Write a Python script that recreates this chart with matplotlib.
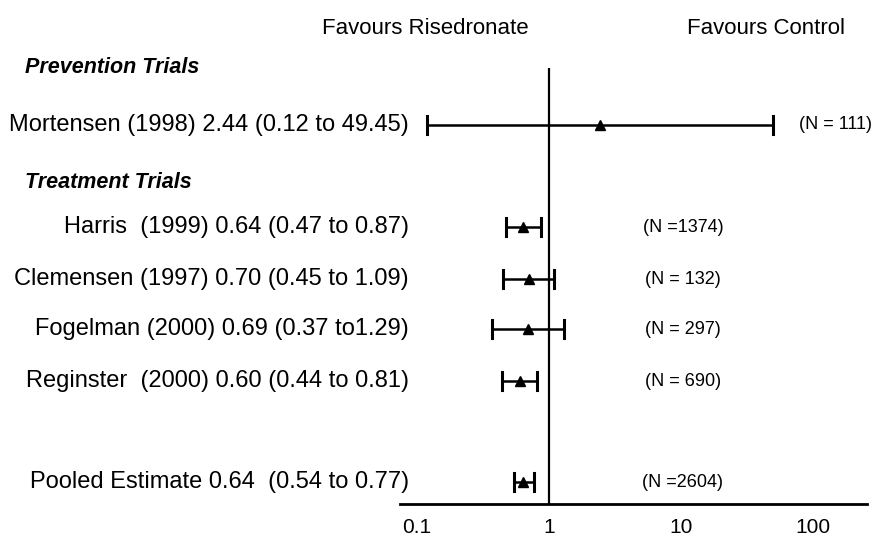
import matplotlib
matplotlib.use("Agg")
import matplotlib.pyplot as plt
from matplotlib.transforms import blended_transform_factory

plt.rcParams["font.family"] = ["Liberation Sans", "DejaVu Sans"]

# data
studies = ["Mortensen (1998) 2.44 (0.12 to 49.45)",
           "Harris  (1999) 0.64 (0.47 to 0.87)",
           "Clemensen (1997) 0.70 (0.45 to 1.09)",
           "Fogelman (2000) 0.69 (0.37 to1.29)",
           "Reginster  (2000) 0.60 (0.44 to 0.81)",
           "Pooled Estimate 0.64  (0.54 to 0.77)"]
rr = [2.44, 0.64, 0.70, 0.69, 0.60, 0.64]
lo = [0.12, 0.47, 0.45, 0.37, 0.44, 0.54]
hi = [49.45, 0.87, 1.09, 1.29, 0.81, 0.77]
n_labels = ["(N = 111)", "(N =1374)", "(N = 132)", "(N = 297)", "(N = 690)", "(N =2604)"]
ticks = [0.1, 1, 10, 100]
tick_labels = ["0.1", "1", "10", "100"]

# layout (row positions in pixels from top)
row_y = [125, 227, 279, 329, 381, 482]

W, H = 877, 539
fig = plt.figure(figsize=(W / 100, H / 100), dpi=100)
ax = fig.add_axes([400 / W, 1 - 504 / H, 467 / W, (504 - 68) / H])
ax.set_xscale("log")
ax.set_xlim(0.0743, 256.6)
ax.set_ylim(504, 68)

for s in ["top", "right", "left"]:
    ax.spines[s].set_visible(False)
ax.spines["bottom"].set_linewidth(2)
ax.set_yticks([])
ax.set_xticks(ticks)
ax.set_xticklabels(tick_labels, fontsize=15)
ax.minorticks_off()
ax.tick_params(axis="x", length=0, pad=10)

ax.axvline(1, color="black", lw=1.6)

for i in range(len(rr)):
    y = row_y[i]
    ax.plot([lo[i], hi[i]], [y, y], color="black", lw=1.8, solid_capstyle="butt")
    for x in (lo[i], hi[i]):
        ax.plot([x, x], [y - 9, y + 9], color="black", lw=2.2)
    ax.plot(rr[i], y, marker="^", color="black", markersize=6.5)

tr = blended_transform_factory(fig.transFigure, ax.transData)
for i in range(len(studies)):
    ax.text(409 / W, row_y[i], studies[i], transform=tr, ha="right", va="center",
            fontsize=17, clip_on=False)
    if i == 0:
        ax.text(799 / W, row_y[i], n_labels[i], transform=tr, ha="left", va="center",
                fontsize=13, clip_on=False)
    else:
        ax.text(683 / W, row_y[i] + 1, n_labels[i], transform=tr, ha="center", va="center",
                fontsize=13, clip_on=False)

ax.text(25 / W, 68, "Prevention Trials", transform=tr, ha="left", va="center",
        fontsize=15.5, fontweight="bold", style="italic", clip_on=False)
ax.text(25 / W, 183, "Treatment Trials", transform=tr, ha="left", va="center",
        fontsize=15.5, fontweight="bold", style="italic", clip_on=False)

fig.text(425 / W, 1 - 29 / H, "Favours Risedronate", ha="center", va="center", fontsize=16)
fig.text(766 / W, 1 - 29 / H, "Favours Control", ha="center", va="center", fontsize=16)

fig.savefig("out.png", dpi=100)
